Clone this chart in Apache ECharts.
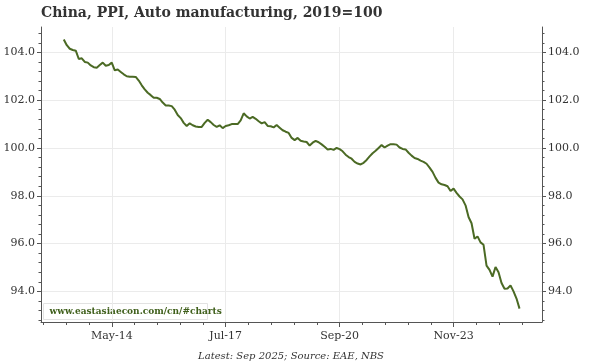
<!DOCTYPE html>
<html>
<head>
<meta charset="utf-8">
<script src="https://cdn.jsdelivr.net/npm/echarts@6/dist/echarts.min.js"></script>
<style>
html,body{margin:0;padding:0;background:#fff;}
#chart{width:600px;height:364px;}
</style>
</head>
<body>
<div id="chart"></div>
<script>
// ---- Data ----
var startYear = 2013, startMonth = 1; // first observation: Jan 2013 (monthly)
var ppiValues = [
  104.54,104.30,104.15,104.10,104.07,103.72,103.75,103.60,103.57,103.45,103.38,103.36,
  103.47,103.57,103.44,103.47,103.57,103.25,103.28,103.18,103.08,103.00,102.98,102.98,
  102.97,102.82,102.62,102.45,102.31,102.21,102.10,102.10,102.05,101.90,101.78,101.78,
  101.75,101.60,101.38,101.25,101.05,100.92,101.03,100.95,100.90,100.88,100.88,101.05,
  101.18,101.08,100.96,100.88,100.95,100.83,100.92,100.95,101.00,101.00,101.00,101.15,
  101.45,101.32,101.23,101.30,101.22,101.12,101.03,101.08,100.92,100.91,100.86,100.96,
  100.85,100.74,100.68,100.63,100.42,100.33,100.42,100.30,100.27,100.25,100.10,100.22,
  100.30,100.24,100.15,100.05,99.94,99.96,99.92,100.00,99.95,99.86,99.72,99.62,
  99.55,99.42,99.35,99.31,99.38,99.50,99.65,99.78,99.88,100.00,100.12,100.02,
  100.10,100.16,100.16,100.14,100.02,99.96,99.94,99.80,99.68,99.58,99.54,99.47,
  99.42,99.34,99.18,99.00,98.75,98.55,98.48,98.45,98.40,98.20,98.30,98.12,
  97.97,97.85,97.60,97.11,96.85,96.20,96.30,96.05,95.95,95.08,94.90,94.62,
  95.02,94.80,94.35,94.11,94.12,94.25,94.00,93.70,93.28
];
var xTickLabels = ['May-14','Jul-17','Sep-20','Nov-23'];
var yTickValues = [94,96,98,100,102,104];
var titleText = 'China, PPI, Auto manufacturing, 2019=100';
var footerText = 'Latest: Sep 2025; Source: EAE, NBS';
var watermarkText = 'www.eastasiaecon.com/cn/#charts';

// ---- Build ----
var monNames = ['Jan','Feb','Mar','Apr','May','Jun','Jul','Aug','Sep','Oct','Nov','Dec'];
function labelToIndex(lbl){
  var p = lbl.split('-');
  var mi = monNames.indexOf(p[0]);
  var yr = 2000 + parseInt(p[1],10);
  return (yr - startYear)*12 + (mi - (startMonth-1));
}
var xMajor = xTickLabels.map(labelToIndex);
var labelByIdx = {};
xMajor.forEach(function(v,i){ labelByIdx[v] = xTickLabels[i]; });
var seriesData = ppiValues.map(function(v,i){ return [i, v]; });

var xMin = -7.6, xMax = 159.5;
var yMin = 92.72, yMax = 105.06;
var majorStep = xMajor[1]-xMajor[0];
var minorStep = majorStep/5;
var xMinor = [];
for (var t = xMajor[0]; t >= xMin; t -= minorStep) xMinor.push(+t.toFixed(3));
for (var t2 = xMajor[0]+minorStep; t2 <= xMax; t2 += minorStep) xMinor.push(+t2.toFixed(3));
var yMinor = [];
for (var k = 0; k < 40; k++) { var yv = +(92.8 + k*0.4).toFixed(2); if (yv >= yMin && yv <= yMax) yMinor.push(yv); }

var font = 'DejaVu Serif';
var axisCol = '#555555';
var gridCol = '#ebebeb';
var lineCol = '#4b6a24';

function yAxisMajor(pos){
  return {
    type:'value', position:pos, min:yMin, max:yMax, gridIndex:0,
    axisLine:{show:true, onZero:false, lineStyle:{color:axisCol, width:1}},
    axisTick:{show:true, customValues:yTickValues, length:4, lineStyle:{color:axisCol}},
    axisLabel:{show:true, customValues:yTickValues, formatter:function(v){return v.toFixed(1);},
      fontFamily:font, fontSize:11, color:'#333', margin:6},
    splitLine:{show: pos==='left', lineStyle:{color:gridCol, width:1}}
  };
}
function yAxisMinor(pos){
  return {
    type:'value', position:pos, min:yMin, max:yMax, gridIndex:0,
    axisLine:{show:false, onZero:false},
    axisTick:{show:true, customValues:yMinor, length:2.5, lineStyle:{color:axisCol}},
    axisLabel:{show:false}, splitLine:{show:false}
  };
}

var chart = echarts.init(document.getElementById('chart'), null, {renderer:'canvas'});
chart.setOption({
  animation:false,
  backgroundColor:'#ffffff',
  title:{
    text:titleText, left:41, top:6, padding:0,
    textStyle:{fontFamily:font, fontWeight:'bold', fontSize:14, color:'#333333'}
  },
  grid:{left:41, right:58, top:27, bottom:42, containLabel:false},
  xAxis:[
    {
      type:'value', position:'bottom', min:xMin, max:xMax, gridIndex:0,
      axisLine:{show:true, onZero:false, lineStyle:{color:axisCol, width:1}},
      axisTick:{show:true, customValues:xMajor, length:5, lineStyle:{color:axisCol}},
      axisLabel:{show:true, customValues:xMajor, formatter:function(v){ return labelByIdx[Math.round(v)] || ''; },
        fontFamily:font, fontSize:11, color:'#333', margin:9},
      splitLine:{show:true, lineStyle:{color:gridCol, width:1}}
    },
    {
      type:'value', position:'bottom', min:xMin, max:xMax, gridIndex:0,
      axisLine:{show:false, onZero:false},
      axisTick:{show:true, customValues:xMinor, length:3, lineStyle:{color:axisCol}},
      axisLabel:{show:false}, splitLine:{show:false}
    }
  ],
  yAxis:[ yAxisMajor('left'), yAxisMajor('right'), yAxisMinor('left'), yAxisMinor('right') ],
  series:[{
    type:'line', xAxisIndex:0, yAxisIndex:0, data:seriesData,
    showSymbol:false, symbol:'none',
    lineStyle:{color:lineCol, width:2}, z:5
  }],
  graphic:[
    {
      type:'group', left:43, top:303, z:10,
      children:[
        {type:'rect', shape:{x:0,y:0,width:164,height:16},
          style:{fill:'#ffffff', stroke:'#e2e2e2', lineWidth:1}},
        {type:'text', x:6, y:8, style:{text:watermarkText, fill:'#3f5f1b',
          font:'bold 9px "DejaVu Serif"', textVerticalAlign:'middle', verticalAlign:'middle'}}
      ]
    },
    {
      type:'text', x:291, y:356, z:10,
      style:{text:footerText, fill:'#333333', font:'italic 10px "DejaVu Serif"',
        align:'center', textAlign:'center', verticalAlign:'middle', textVerticalAlign:'middle'}
    }
  ]
});
</script>
</body>
</html>
